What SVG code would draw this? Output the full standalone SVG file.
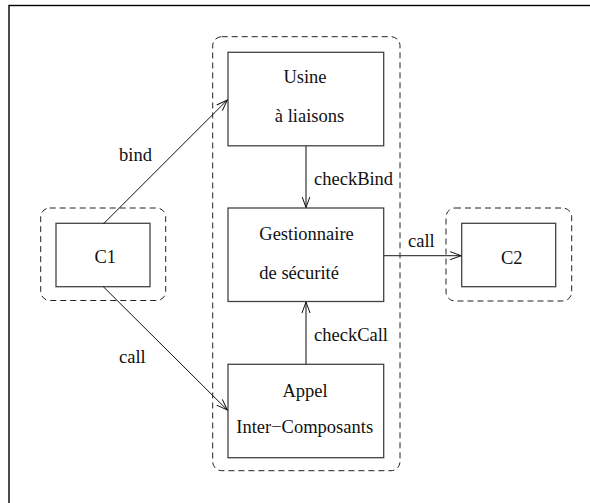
<svg xmlns="http://www.w3.org/2000/svg" width="590" height="503" viewBox="0 0 590 503">
<style>
.box{fill:none;stroke:#444;stroke-width:1.3}
.dash{fill:none;stroke:#222;stroke-width:1;stroke-dasharray:6,4}
.t{font-family:"Liberation Serif","Times New Roman",serif;font-size:18.5px;fill:#111}
.c{text-anchor:middle}
.ln{fill:none;stroke:#111;stroke-width:1}
.lg{fill:none;stroke:#444;stroke-width:1.3}
</style>
<defs>
<marker id="ah" viewBox="0 0 12 10" refX="11" refY="5" markerWidth="12" markerHeight="10" markerUnits="userSpaceOnUse" orient="auto">
<path d="M0,1 L11,5 L0,9" fill="none" stroke="#111" stroke-width="1"/>
</marker>
</defs>
<rect x="9" y="5.5" width="700" height="700" fill="none" stroke="#000" stroke-width="1.4"/>
<g id="group-main"><rect class="dash" x="212.7" y="36.7" width="187.3" height="434" rx="9"/></g>
<g id="group-c1"><rect class="dash" x="40.7" y="208" width="125" height="92.5" rx="9"/></g>
<g id="group-c2"><rect class="dash" x="446" y="208" width="125.7" height="93" rx="9"/></g>
<g id="usine">
<rect class="box" x="228" y="52.3" width="155.7" height="93.5"/>
<text class="t c" x="305" y="83">Usine</text>
<text class="t c" x="309.5" y="121.7">à liaisons</text>
</g>
<g id="gestionnaire">
<rect class="box" x="228" y="208" width="155.7" height="93.5"/>
<text class="t" x="259.3" y="240">Gestionnaire</text>
<text class="t" x="259.3" y="279.3">de sécurité</text>
</g>
<g id="appel">
<rect class="box" x="228" y="364.3" width="155.7" height="93.4"/>
<text class="t c" x="305" y="396.7">Appel</text>
<text class="t c" x="304.7" y="433.3">Inter−Composants</text>
</g>
<g id="c1">
<rect class="box" x="56" y="223.3" width="94" height="63.4"/>
<text class="t c" x="105.3" y="262.7">C1</text>
</g>
<g id="c2">
<rect class="box" x="461.7" y="223.3" width="94" height="63.4"/>
<text class="t c" x="511.7" y="264">C2</text>
</g>
<g id="connectors">
<line class="ln" x1="103.3" y1="224" x2="227.3" y2="100" marker-end="url(#ah)"/>
<line class="ln" x1="103.3" y1="286.7" x2="227.3" y2="410" marker-end="url(#ah)"/>
<line class="lg" x1="306" y1="145.8" x2="306" y2="207.5" marker-end="url(#ah)"/>
<line class="lg" x1="306" y1="364.3" x2="306" y2="302" marker-end="url(#ah)"/>
<line class="lg" x1="383.7" y1="255.7" x2="461.2" y2="255.7" marker-end="url(#ah)"/>
<text class="t" x="119" y="160.7">bind</text>
<text class="t" x="119" y="363.3">call</text>
<text class="t" x="314" y="185">checkBind</text>
<text class="t" x="314" y="340.7">checkCall</text>
<text class="t" x="408" y="247.3">call</text>
</g>
</svg>
